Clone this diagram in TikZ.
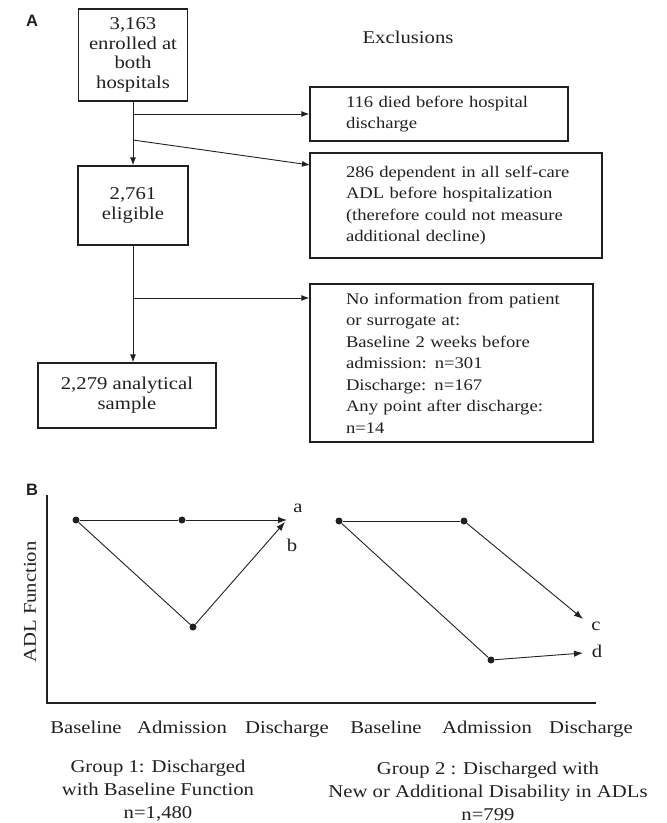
\documentclass[tikz,border=0pt]{standalone}
\usepackage{fontspec}
\setmainfont{Liberation Serif}[FakeStretch=1.15]
\newfontfamily\panelfont{Liberation Sans}
\usetikzlibrary{arrows.meta}
\definecolor{ink}{RGB}{35,31,32}
\begin{document}
\begin{tikzpicture}[x=1pt,y=-1pt,
  every node/.style={text=ink},
  box/.style={draw=ink, line width=1.3pt, inner sep=0pt, align=center,
    font=\fontsize{18}{19.5}\selectfont},
  exbox/.style={draw=ink, line width=1.3pt, inner ysep=0pt, inner xsep=36pt, align=left,
    font=\fontsize{16.2}{21.5}\selectfont},
  conn/.style={draw=ink, line width=0.9pt, -{Latex[length=8pt,width=6pt]}},
  lnk/.style={draw=ink, line width=0.9pt},
  plotarr/.style={draw=ink, line width=0.9pt, -{Latex[length=9pt,width=6.5pt]}},
  dot/.style={circle, fill=ink, inner sep=0pt, minimum size=7pt},
  lab/.style={font=\fontsize{18}{23}\selectfont},
  panel/.style={font=\fontsize{16.5}{18}\panelfont\bfseries}
]
\useasboundingbox (0,0) rectangle (667,823);

% ---------- Panel A ----------
\node[panel] (pA) at (32,21) {A};
\node[lab] (excl) at (408,37) {Exclusions};

\node[box, minimum width=109pt, minimum height=92pt] (enr) at (133,55)
  {3,163\\enrolled at\\both\\hospitals};
\node[box, minimum width=110pt, minimum height=79pt] (elig) at (133,205.5)
  {2,761\\eligible};
\node[box, minimum width=178pt, minimum height=65pt, font=\fontsize{18}{20}\selectfont] (samp) at (127,395.5)
  {2,279 analytical\\sample};

\node[exbox, text width=186pt, minimum height=54pt] (died) at (439,114)
  {\mbox{116 died before hospital}\\\mbox{discharge}};
\node[exbox, text width=220pt, minimum height=105pt] (dep) at (456,205.5)
  {\mbox{286 dependent in all self-care}\\\mbox{ADL before hospitalization}\\\mbox{(therefore could not measure}\\\mbox{additional decline)}};
\node[exbox, text width=211pt, minimum height=158pt] (noinfo) at (451.5,363)
  {\mbox{No information from patient}\\\mbox{or surrogate at:}\\\mbox{Baseline 2 weeks before}\\\mbox{admission: n=301}\\\mbox{Discharge: n=167}\\\mbox{Any point after discharge:}\\\mbox{n=14}};

\coordinate (j1) at (133,114);
\coordinate (j2) at (133,140);
\coordinate (t2) at (310,165);
\coordinate (j3) at (133,298);

\draw[conn] (enr.south) -- (elig.north);
\draw[conn] (j1) -- (died.west);
\draw[conn] (j2) -- (t2);
\draw[conn] (elig.south) -- (elig.south |- samp.north);
\draw[conn] (j3) -- (noinfo.west |- j3);

% ---------- Panel B ----------
\node[panel] (pB) at (32,490) {B};

\coordinate (ytop) at (47,495);
\coordinate (orig) at (47,703);
\coordinate (xend) at (596,703);
\draw[ink, line width=1.4pt] (ytop) -- (orig) -- (xend);

\node[lab, rotate=90] (ylab) at (30,602) {ADL Function};

% group 1
\node[dot] (g1a) at (76,520) {};
\node[dot] (g1b) at (182,520) {};
\node[dot] (g1c) at (193,627) {};
\coordinate (g1ta) at (287,520);
\coordinate (g1tb) at (285,522);
\draw[lnk] (g1a) -- (g1b);
\draw[plotarr] (g1b) -- (g1ta);
\draw[lnk] (g1a) -- (g1c);
\draw[plotarr] (g1c) -- (g1tb);
\node[lab, anchor=base] (la) at (298,512) {a};
\node[lab, anchor=base] (lb) at (292,551) {b};

% group 2
\node[dot] (g2a) at (339,521) {};
\node[dot] (g2b) at (464,521) {};
\node[dot] (g2c) at (491,660) {};
\coordinate (g2tc) at (583,619);
\coordinate (g2td) at (583,653);
\draw[lnk] (g2a) -- (g2b);
\draw[lnk] (g2a) -- (g2c);
\draw[plotarr] (g2b) -- (g2tc);
\draw[plotarr] (g2c) -- (g2td);
\node[lab, anchor=base] (lc) at (596,630) {c};
\node[lab, anchor=base] (ld) at (597,657) {d};

% axis labels
\node[lab, anchor=base] (x1) at (86,733) {Baseline};
\node[lab, anchor=base] (x2) at (182,733) {Admission};
\node[lab, anchor=base] (x3) at (287,733) {Discharge};
\node[lab, anchor=base] (x4) at (386,733) {Baseline};
\node[lab, anchor=base] (x5) at (487,733) {Admission};
\node[lab, anchor=base] (x6) at (591,733) {Discharge};

\node[lab, align=center] (grp1) at (158,791)
  {Group 1: Discharged\\with Baseline Function\\n=1,480};
\node[lab, align=center] (grp2) at (488,791)
  {Group 2 : Discharged with\\New or Additional Disability in ADLs\\n=799};
\end{tikzpicture}
\end{document}
